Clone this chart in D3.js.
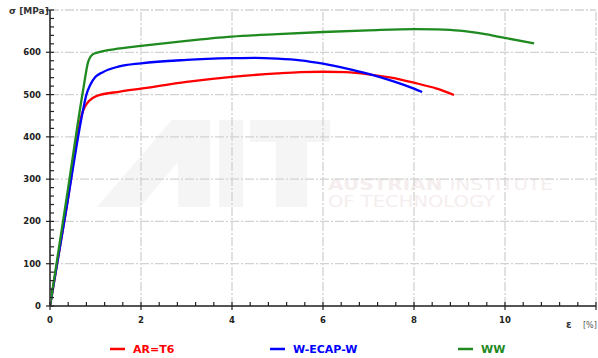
<!DOCTYPE html>
<html>
<head>
<meta charset="utf-8">
<script src="https://cdn.jsdelivr.net/npm/d3@7"></script>
<style>
  body { margin: 0; background: #fff; }
  text { font-family: "DejaVu Sans", Verdana, sans-serif; font-weight: bold; }
</style>
</head>
<body>
<div id="chart"></div>
<script>
// strain [%] / stress [MPa] pairs
var arT6 = [[0,0],[0.36,230],[0.72,460],[0.78,474],[0.85,484],[1.03,497],[1.54,507],
  [2,514],[3,530],[4,542],[5,550],[5.5,553],[6,554],[6.5,553],[7,548],[7.5,540],[8,528],[8.5,514],[8.88,499]];
var wEcapW = [[0,0],[0.36,230],[0.72,460],[0.8,500],[0.88,522],[1.0,542],[1.16,553],[1.5,566],
  [2,574],[3,582],[4,586],[4.5,587],[5,585],[5.5,581],[6,573],[6.5,562],[7,549],[7.5,533],[8,514],[8.18,506]];
var ww = [[0,0],[0.4,280],[0.73,512],[0.84,578],[0.9,591],[1.0,598],[1.54,609],[2,615],
  [3,627],[4,637],[5,643],[6,648],[7,652],[8,655],[8.5,654],[9,651],[9.5,644],[10,634],[10.64,621]];

var seriesNames = ["AR=T6", "W-ECAP-W", "WW"];
var seriesColors = ["#ff0000", "#0000ff", "#1f8a1f"];
var seriesData = [arT6, wEcapW, ww];

var xTicks = [0, 2, 4, 6, 8, 10];
var yTicks = [0, 100, 200, 300, 400, 500, 600];

var W = 598, H = 358;
var svg = d3.select("#chart").append("svg").attr("width", W).attr("height", H);

var x = d3.scaleLinear().domain([0, 12]).range([50, 596]);
var y = d3.scaleLinear().domain([0, 700]).range([306, 10]);

// faint AIT watermark
var wm = svg.append("g").attr("fill", "#f5f5f5");
wm.append("path").attr("d", "M97,207 L172,120 L210,120 L210,207 L178,207 L178,162 L140,207 Z");
wm.append("rect").attr("x", 219).attr("y", 120).attr("width", 24).attr("height", 87);
wm.append("rect").attr("x", 250).attr("y", 120).attr("width", 80).attr("height", 22);
wm.append("rect").attr("x", 276).attr("y", 120).attr("width", 31).attr("height", 87);
var wt = svg.append("g").attr("fill", "#f5eeee").attr("font-size", 15);
var t1 = wt.append("text").attr("x", 328).attr("y", 190)
  .attr("textLength", 225).attr("lengthAdjust", "spacingAndGlyphs");
t1.append("tspan").text("AUSTRIAN ");
t1.append("tspan").style("font-weight", "normal").text("INSTITUTE");
wt.append("text").attr("x", 328).attr("y", 207).style("font-weight", "normal")
  .attr("textLength", 167).attr("lengthAdjust", "spacingAndGlyphs").text("OF TECHNOLOGY");

// grid
var grid = svg.append("g").attr("stroke", "#d2d2d2").attr("stroke-width", 1.3)
  .attr("stroke-dasharray", "9,2,2,2");
[2, 4, 6, 8, 10, 12].forEach(function (v) {
  grid.append("line").attr("x1", x(v)).attr("x2", x(v)).attr("y1", y(0)).attr("y2", y(700));
});
[100, 200, 300, 400, 500, 600, 700].forEach(function (v) {
  grid.append("line").attr("x1", x(0)).attr("x2", x(12)).attr("y1", y(v)).attr("y2", y(v));
});

// curves
var line = d3.line().x(function (d) { return x(d[0]); }).y(function (d) { return y(d[1]); })
  .curve(d3.curveMonotoneX);
seriesData.forEach(function (s, i) {
  svg.append("path").datum(s).attr("d", line).attr("fill", "none")
    .attr("stroke", seriesColors[i]).attr("stroke-width", 2.3);
});

// axes
var axisCol = "#555";
var ax = svg.append("g");
ax.append("line").attr("x1", x(0)).attr("x2", x(0)).attr("y1", y(0)).attr("y2", y(700))
  .attr("stroke", axisCol).attr("stroke-width", 2);
ax.append("line").attr("x1", x(0)).attr("x2", x(12)).attr("y1", y(0)).attr("y2", y(0))
  .attr("stroke", axisCol).attr("stroke-width", 2);

d3.range(0, 701, 20).forEach(function (v) {
  var major = v % 100 === 0;
  ax.append("line").attr("x1", major ? x(0) - 4 : x(0)).attr("x2", x(0) + 4)
    .attr("y1", y(v)).attr("y2", y(v)).attr("stroke", "#222").attr("stroke-width", 1.2);
});
d3.range(0, 12.01, 0.4).forEach(function (v) {
  var major = Math.abs(v / 2 - Math.round(v / 2)) < 1e-6;
  ax.append("line").attr("x1", x(v)).attr("x2", x(v))
    .attr("y1", y(0) - 4).attr("y2", major ? y(0) + 4 : y(0))
    .attr("stroke", "#222").attr("stroke-width", 1.2);
});

svg.selectAll(".ylab").data(yTicks).enter().append("text")
  .attr("x", 41).attr("y", function (d) { return y(d) + 3; })
  .attr("text-anchor", "end").attr("font-size", 8.5).attr("fill", "#222")
  .text(function (d) { return d; });
svg.selectAll(".xlab").data(xTicks).enter().append("text")
  .attr("x", function (d) { return x(d); }).attr("y", 323)
  .attr("text-anchor", "middle").attr("font-size", 8.5).attr("fill", "#222")
  .text(function (d) { return d; });

svg.append("text").attr("x", 9).attr("y", 14).attr("font-size", 9).attr("fill", "#333")
  .text("σ [MPa]");
svg.append("text").attr("x", 566).attr("y", 328).attr("font-size", 10).attr("fill", "#333")
  .text("ε");
svg.append("text").attr("x", 583).attr("y", 328).attr("font-size", 8).attr("fill", "#555")
  .attr("font-weight", "normal").style("font-weight", "normal").text("[%]");

// legend
var legX = [110, 270, 458];
seriesNames.forEach(function (n, i) {
  svg.append("line").attr("x1", legX[i]).attr("x2", legX[i] + 15).attr("y1", 349).attr("y2", 349)
    .attr("stroke", seriesColors[i]).attr("stroke-width", 2.5);
  svg.append("text").attr("x", legX[i] + 23).attr("y", 353).attr("font-size", 11)
    .attr("fill", seriesColors[i]).text(n);
});
</script>
</body>
</html>
